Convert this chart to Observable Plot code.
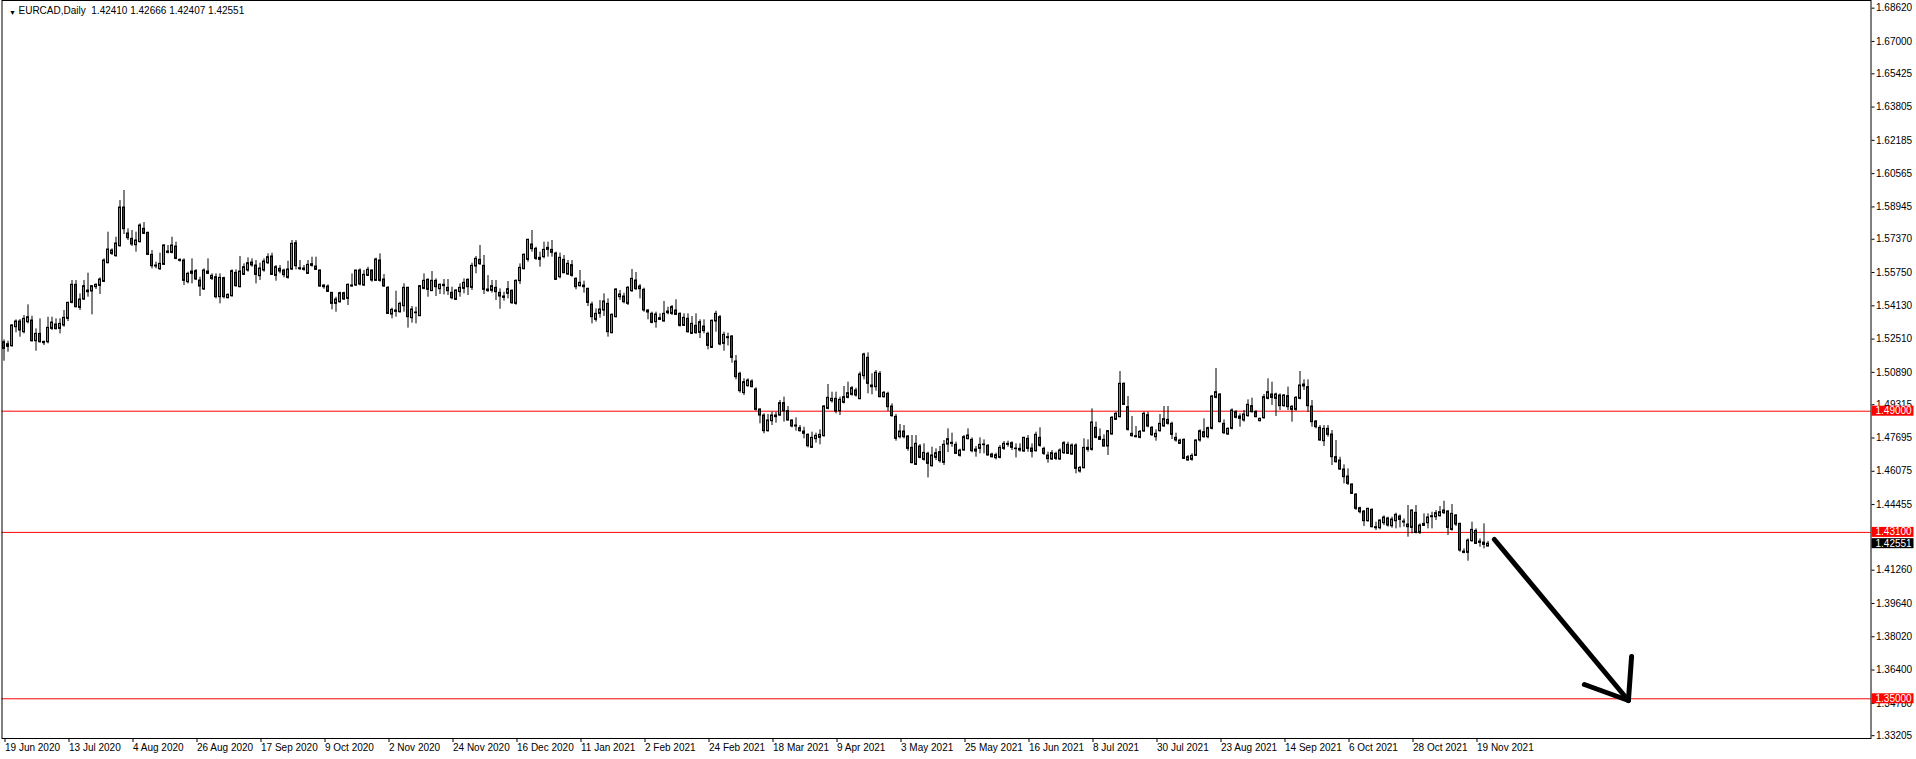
<!DOCTYPE html>
<html><head><meta charset="utf-8">
<script src="https://cdn.jsdelivr.net/npm/d3@7"></script>
<script src="https://cdn.jsdelivr.net/npm/@observablehq/plot@0.6"></script>
<style>
html,body{margin:0;padding:0;background:#fff;overflow:hidden}
#chart{width:1916px;height:759px}
</style></head><body><div id="chart"></div>
<script>
const symbolTitle = "EURCAD,Daily";
const lastQuote = ["1.42410","1.42666","1.42407","1.42551"];
const dateLabels = ["19 Jun 2020","13 Jul 2020","4 Aug 2020","26 Aug 2020","17 Sep 2020","9 Oct 2020","2 Nov 2020","24 Nov 2020","16 Dec 2020","11 Jan 2021","2 Feb 2021","24 Feb 2021","18 Mar 2021","9 Apr 2021","3 May 2021","25 May 2021","16 Jun 2021","8 Jul 2021","30 Jul 2021","23 Aug 2021","14 Sep 2021","6 Oct 2021","28 Oct 2021","19 Nov 2021"];
const barsPerDateLabel = 16;
const priceTicks = [1.68620,1.67000,1.65425,1.63805,1.62185,1.60565,1.58945,1.57370,1.55750,1.54130,1.52510,1.50890,1.49315,1.47695,1.46075,1.44455,1.41260,1.39640,1.38020,1.36400,1.34780,1.33205];
const levels = [1.49000, 1.43100, 1.35000];
const lastPrice = 1.42551;

const opens = [
1.52359,1.52131,1.52164,1.53089,1.53365,1.52846,1.53332,1.53414,1.52407,1.52764,
1.52375,1.52359,1.53008,1.53219,1.53008,1.53170,1.53495,1.54274,1.55150,1.54030,
1.54436,1.54793,1.54826,1.55037,1.55102,1.55296,1.56205,1.56660,1.56546,1.57033,
1.58915,1.57650,1.57390,1.57082,1.57228,1.57877,1.57682,1.56611,1.56092,1.55913,
1.56124,1.56708,1.56708,1.57017,1.56367,1.56335,1.55280,1.55686,1.55816,1.55361,
1.54923,1.55799,1.55442,1.55523,1.54550,1.55475,1.54501,1.54598,1.55734,1.55037,
1.55637,1.55848,1.56238,1.56092,1.55572,1.55848,1.56205,1.56530,1.55588,1.55929,
1.55848,1.55491,1.55897,1.57179,1.55962,1.55880,1.55686,1.56075,1.56043,1.55848,
1.55118,1.55069,1.54761,1.54225,1.54306,1.54744,1.54469,1.55069,1.55118,1.55848,
1.55118,1.55588,1.55848,1.55345,1.56335,1.55410,1.55004,1.53706,1.53836,1.53819,
1.54112,1.55005,1.53528,1.53771,1.53625,1.54956,1.55394,1.54843,1.55346,1.54940,
1.55086,1.55005,1.54762,1.54421,1.54794,1.54956,1.55394,1.55005,1.56044,1.56368,
1.56076,1.54924,1.54859,1.55005,1.54762,1.54583,1.54713,1.54859,1.54226,1.55330,
1.55914,1.56368,1.57115,1.56904,1.56466,1.56498,1.56855,1.56855,1.56677,1.55524,
1.56368,1.55654,1.56109,1.55443,1.55086,1.55118,1.54956,1.54193,1.53447,1.53739,
1.53901,1.54226,1.52798,1.53577,1.54550,1.54583,1.54226,1.54843,1.55362,1.55070,
1.54908,1.53901,1.53739,1.53333,1.53447,1.53366,1.53771,1.53739,1.53901,1.53739,
1.53155,1.53496,1.52765,1.53155,1.52814,1.53122,1.52765,1.52083,1.53366,1.53577,
1.52278,1.52554,1.52635,1.51420,1.50819,1.49878,1.50219,1.50446,1.50056,1.49082,
1.48790,1.48027,1.48514,1.48709,1.48790,1.49391,1.49001,1.48547,1.48303,1.48174,
1.48011,1.47849,1.47216,1.47638,1.47703,1.47784,1.49115,1.49488,1.49602,1.49001,
1.49407,1.49650,1.49797,1.50008,1.49586,1.50705,1.51598,1.50170,1.50170,1.50819,
1.49683,1.49845,1.49228,1.48725,1.47735,1.48011,1.47768,1.47216,1.46388,1.47281,
1.46632,1.46924,1.46323,1.46729,1.47005,1.46486,1.47378,1.47411,1.47362,1.46826,
1.47086,1.47638,1.47605,1.47135,1.47167,1.47346,1.47313,1.46891,1.46713,1.46729,
1.47167,1.47411,1.47443,1.47183,1.47167,1.47037,1.47654,1.47183,1.47054,1.47703,
1.47167,1.46843,1.46648,1.46924,1.46648,1.46956,1.47362,1.46891,1.47329,1.46064,
1.46226,1.47119,1.47119,1.48190,1.47735,1.47605,1.47281,1.47865,1.48579,1.48709,
1.50332,1.49196,1.47898,1.47735,1.47703,1.48011,1.48806,1.48190,1.47735,1.48027,
1.48255,1.48579,1.48385,1.47703,1.47411,1.47605,1.46599,1.46632,1.46826,1.47573,
1.47979,1.47735,1.48141,1.49650,1.49813,1.48385,1.47865,1.48141,1.48953,1.48742,
1.48547,1.48758,1.49245,1.48953,1.48514,1.48660,1.49602,1.49813,1.49602,1.49764,
1.49245,1.49732,1.49066,1.49066,1.49602,1.50299,1.50170,1.49228,1.48498,1.48190,
1.47540,1.48141,1.47865,1.46761,1.46599,1.46161,1.45820,1.45430,1.44943,1.44278,
1.44116,1.43645,1.44197,1.43353,1.43304,1.43548,1.43775,1.43402,1.43645,1.43872,
1.43629,1.43483,1.43320,1.44051,1.43077,1.43418,1.43548,1.43840,1.43840,1.43889,
1.44165,1.44116,1.43223,1.43921,1.43515,1.42168,1.42103,1.42671,1.43174,1.42655,
1.42606,1.42410];

const highs = [
1.52472,1.52407,1.53219,1.53446,1.53462,1.53657,1.54176,1.53624,1.53008,1.53495,
1.52407,1.53576,1.53576,1.53495,1.53495,1.53900,1.54306,1.55361,1.55361,1.54712,
1.55361,1.55718,1.55102,1.55199,1.55491,1.56416,1.57714,1.56903,1.57471,1.59256,
1.59743,1.57877,1.57796,1.57714,1.58120,1.58185,1.57714,1.56822,1.56254,1.56692,
1.57114,1.57065,1.57471,1.57228,1.56416,1.56416,1.55767,1.56416,1.55897,1.55523,
1.55929,1.56416,1.55686,1.55686,1.55686,1.55523,1.54712,1.55880,1.55880,1.56530,
1.56173,1.56465,1.56416,1.56335,1.56205,1.56416,1.56660,1.56692,1.56092,1.56092,
1.55913,1.56302,1.57309,1.57309,1.56335,1.56092,1.56335,1.56497,1.56497,1.55880,
1.55150,1.55150,1.54777,1.54550,1.54793,1.54793,1.55199,1.55686,1.55848,1.55929,
1.55848,1.56010,1.55880,1.56449,1.56660,1.55653,1.55069,1.54014,1.54842,1.54306,
1.55200,1.55037,1.54096,1.54064,1.55118,1.55687,1.55443,1.55800,1.55443,1.55200,
1.55411,1.55411,1.55037,1.54908,1.55200,1.55443,1.55443,1.56206,1.56530,1.57066,
1.56579,1.55605,1.55362,1.55362,1.54956,1.54794,1.55313,1.54908,1.55394,1.56173,
1.56660,1.57374,1.57796,1.56985,1.56741,1.57228,1.57228,1.57310,1.56741,1.56693,
1.56579,1.56336,1.56336,1.55492,1.55849,1.55330,1.54989,1.54307,1.53982,1.54388,
1.54713,1.54469,1.53739,1.54956,1.54875,1.54745,1.55070,1.55898,1.55751,1.55167,
1.54989,1.53950,1.53820,1.53820,1.53739,1.54340,1.54064,1.54145,1.54421,1.53788,
1.53739,1.53739,1.53609,1.53739,1.53447,1.53447,1.52846,1.53447,1.53869,1.53658,
1.52846,1.52798,1.52684,1.51712,1.50900,1.50576,1.50576,1.50527,1.50137,1.49115,
1.48871,1.48839,1.48953,1.48953,1.49521,1.49683,1.49228,1.48579,1.48677,1.48303,
1.48222,1.47898,1.47979,1.47930,1.48092,1.49277,1.50300,1.49926,1.49926,1.49683,
1.50202,1.50413,1.50202,1.50121,1.50900,1.51825,1.51841,1.50819,1.50981,1.50933,
1.49959,1.49926,1.49358,1.48839,1.48352,1.48305,1.47817,1.47817,1.47817,1.47378,
1.47411,1.47005,1.47248,1.47167,1.47281,1.47573,1.48141,1.47930,1.47492,1.47151,
1.47817,1.48141,1.47703,1.47281,1.47703,1.47605,1.47378,1.46956,1.46956,1.47329,
1.47524,1.47541,1.47508,1.47411,1.47411,1.47735,1.47817,1.47411,1.47979,1.48190,
1.47248,1.47005,1.47086,1.47005,1.47167,1.47524,1.47492,1.47411,1.47411,1.46307,
1.47654,1.47605,1.49115,1.48466,1.48141,1.47849,1.48060,1.48742,1.48953,1.50933,
1.50381,1.49715,1.48742,1.48255,1.48060,1.48953,1.48953,1.48255,1.48092,1.48839,
1.49228,1.49228,1.48466,1.47930,1.47638,1.47654,1.46843,1.46924,1.47605,1.48092,
1.48628,1.48222,1.49764,1.51079,1.49845,1.48579,1.48190,1.49115,1.49034,1.48871,
1.49034,1.49553,1.49634,1.49034,1.48660,1.49813,1.50576,1.50413,1.49878,1.49845,
1.49813,1.50170,1.49277,1.49715,1.50933,1.50527,1.50527,1.49520,1.48547,1.48303,
1.48303,1.48303,1.48060,1.47573,1.46761,1.46388,1.46193,1.45463,1.44976,1.44327,
1.44165,1.44278,1.44246,1.43597,1.43710,1.43905,1.43840,1.43840,1.44035,1.43953,
1.43759,1.44408,1.44197,1.44408,1.43515,1.44002,1.44002,1.44083,1.44165,1.44359,
1.44619,1.44165,1.44457,1.43970,1.43548,1.42298,1.42785,1.43597,1.43272,1.42785,
1.43515,1.42666];

const lows = [
1.51434,1.51872,1.52115,1.52813,1.52602,1.52765,1.53251,1.52359,1.51921,1.52310,
1.52196,1.52277,1.52927,1.52959,1.52764,1.53089,1.53365,1.54225,1.54030,1.53900,
1.54387,1.54550,1.53689,1.54923,1.54680,1.55264,1.56173,1.56579,1.56497,1.56984,
1.57601,1.57309,1.57017,1.56741,1.57195,1.57601,1.56579,1.55929,1.55929,1.55848,
1.56092,1.56660,1.56660,1.56367,1.56254,1.55118,1.55199,1.55199,1.55361,1.54582,
1.54874,1.55653,1.55361,1.54469,1.54225,1.54469,1.54469,1.54550,1.55037,1.55004,
1.55605,1.55767,1.56010,1.55199,1.55361,1.55767,1.56140,1.55605,1.55329,1.55686,
1.55491,1.55426,1.55848,1.55880,1.55848,1.55815,1.55653,1.56010,1.55848,1.55037,
1.54939,1.54777,1.53933,1.53819,1.54258,1.54387,1.54144,1.55037,1.55069,1.55102,
1.55069,1.55556,1.55280,1.55313,1.55280,1.55037,1.53706,1.53495,1.53576,1.53771,
1.53820,1.53041,1.53285,1.53252,1.53609,1.54908,1.54550,1.54826,1.54583,1.54680,
1.54664,1.54632,1.54421,1.54388,1.54550,1.54713,1.54632,1.54875,1.55687,1.56092,
1.54680,1.54794,1.54745,1.54388,1.53966,1.54356,1.54469,1.54193,1.54161,1.55167,
1.55881,1.56255,1.56741,1.56336,1.56011,1.56417,1.56498,1.56498,1.55362,1.55443,
1.55687,1.55605,1.55524,1.54908,1.55037,1.54745,1.54096,1.53252,1.53333,1.53528,
1.53609,1.52603,1.52765,1.53544,1.54388,1.54226,1.54145,1.54778,1.54875,1.54469,
1.53820,1.53447,1.53252,1.53041,1.53414,1.53333,1.53690,1.53658,1.53658,1.53090,
1.53122,1.52798,1.52733,1.52749,1.52538,1.52765,1.51986,1.52051,1.52846,1.52181,
1.51921,1.52181,1.51337,1.50527,1.49878,1.49764,1.50170,1.50137,1.49001,1.48385,
1.47898,1.47979,1.48303,1.48417,1.48742,1.48466,1.48514,1.48190,1.48027,1.47979,
1.47654,1.47216,1.47200,1.47443,1.47362,1.47735,1.49066,1.49391,1.48871,1.48790,
1.49358,1.49602,1.49732,1.49683,1.49553,1.50527,1.49845,1.49797,1.49975,1.49650,
1.49634,1.48985,1.48709,1.47540,1.47654,1.47654,1.47054,1.46437,1.46356,1.46680,
1.46567,1.45755,1.46275,1.46599,1.46470,1.46356,1.46985,1.47248,1.46891,1.46762,
1.47054,1.47605,1.46973,1.46762,1.46924,1.46924,1.46826,1.46713,1.46632,1.46680,
1.47086,1.47248,1.47086,1.46729,1.47005,1.47005,1.47005,1.46729,1.47005,1.47248,
1.46843,1.46470,1.46599,1.46599,1.46599,1.46891,1.46891,1.46843,1.45950,1.45983,
1.46194,1.47005,1.47054,1.47654,1.47573,1.47248,1.46843,1.47833,1.48547,1.48677,
1.49277,1.48027,1.47735,1.47703,1.47654,1.47979,1.48190,1.47768,1.47540,1.47979,
1.48222,1.48320,1.47622,1.47492,1.47378,1.46648,1.46567,1.46567,1.46794,1.47492,
1.47687,1.47654,1.48092,1.49602,1.48433,1.47865,1.47817,1.48092,1.48628,1.48222,
1.48466,1.48709,1.48904,1.48677,1.48482,1.48612,1.49553,1.49277,1.48742,1.49034,
1.49196,1.49034,1.48466,1.49001,1.49553,1.50007,1.48952,1.48222,1.48141,1.47540,
1.47281,1.47735,1.46355,1.46469,1.46112,1.45463,1.45382,1.44943,1.44165,1.44002,
1.43385,1.43597,1.43320,1.43191,1.43223,1.43434,1.43353,1.43304,1.43272,1.43320,
1.43353,1.42866,1.43028,1.43028,1.42996,1.43385,1.43272,1.43272,1.43678,1.43840,
1.43970,1.42947,1.43158,1.43385,1.42136,1.42055,1.41698,1.42623,1.42509,1.42379,
1.42298,1.42407];

const closes = [
1.52034,1.52261,1.53170,1.53365,1.52927,1.53495,1.53576,1.52407,1.52764,1.52359,
1.52310,1.53057,1.53316,1.52992,1.53251,1.53544,1.54274,1.55150,1.54063,1.54436,
1.55085,1.54874,1.55085,1.55150,1.55410,1.56335,1.56870,1.56822,1.57163,1.58915,
1.57861,1.57422,1.57114,1.57309,1.58039,1.57633,1.56611,1.56059,1.56043,1.56173,
1.57065,1.56773,1.57065,1.56416,1.56319,1.55345,1.55686,1.55799,1.55410,1.55069,
1.55848,1.55686,1.55588,1.54550,1.55491,1.54550,1.54663,1.55816,1.55085,1.55799,
1.56010,1.56205,1.56092,1.55637,1.55945,1.56286,1.56497,1.55637,1.56010,1.55799,
1.55621,1.55897,1.57147,1.56059,1.55913,1.55945,1.56124,1.56157,1.55880,1.55069,
1.55037,1.54809,1.54225,1.54436,1.54744,1.54436,1.55150,1.55118,1.55848,1.55166,
1.55637,1.55880,1.55361,1.56384,1.55345,1.55069,1.53738,1.53933,1.53900,1.54225,
1.55005,1.53577,1.53950,1.53804,1.55086,1.55346,1.54908,1.55346,1.55037,1.55151,
1.55151,1.54843,1.54502,1.54875,1.55005,1.55248,1.55037,1.56076,1.56417,1.56157,
1.54908,1.54843,1.55086,1.54794,1.54583,1.54518,1.54940,1.54258,1.55346,1.55979,
1.56612,1.57342,1.56888,1.56417,1.56368,1.56855,1.56953,1.56709,1.55394,1.56466,
1.55719,1.56173,1.55589,1.55037,1.55248,1.55037,1.54274,1.53577,1.53739,1.53950,
1.54340,1.52846,1.53690,1.54924,1.54680,1.54307,1.55005,1.55443,1.54940,1.54940,
1.53901,1.53804,1.53301,1.53706,1.53528,1.53739,1.53853,1.54064,1.53690,1.53155,
1.53544,1.52846,1.53252,1.52798,1.53333,1.52895,1.52181,1.53398,1.53739,1.52246,
1.52716,1.52603,1.51597,1.50657,1.49975,1.50413,1.50494,1.50170,1.49066,1.48790,
1.48027,1.48547,1.48790,1.48790,1.49391,1.49001,1.48547,1.48255,1.48255,1.48027,
1.47898,1.47297,1.47703,1.47800,1.47849,1.49228,1.49650,1.49602,1.48985,1.49553,
1.49683,1.49878,1.50121,1.49764,1.50787,1.51760,1.50332,1.50251,1.50868,1.49683,
1.49894,1.49196,1.48758,1.47654,1.48011,1.47735,1.47167,1.46470,1.47411,1.46729,
1.46972,1.46437,1.46843,1.46956,1.46567,1.47362,1.47638,1.47460,1.46924,1.47086,
1.47735,1.47817,1.47054,1.47037,1.47362,1.47378,1.46843,1.46762,1.46859,1.47216,
1.47411,1.47362,1.47216,1.47151,1.47086,1.47703,1.47167,1.47021,1.47849,1.47313,
1.46924,1.46664,1.46956,1.46680,1.47086,1.47443,1.46924,1.47329,1.46194,1.46242,
1.47216,1.47216,1.48449,1.47703,1.47605,1.47281,1.48027,1.48677,1.48871,1.50332,
1.49310,1.48092,1.47784,1.47784,1.47995,1.48871,1.48255,1.47833,1.47898,1.48385,
1.48612,1.48385,1.47849,1.47573,1.47573,1.46680,1.46761,1.46826,1.47573,1.48027,
1.47735,1.48174,1.49715,1.49926,1.48466,1.47930,1.48141,1.49034,1.48677,1.48628,
1.48839,1.49310,1.48953,1.48709,1.48628,1.49683,1.49926,1.49650,1.49813,1.49245,
1.49764,1.49196,1.49212,1.49650,1.50251,1.50202,1.49244,1.48465,1.48222,1.47573,
1.48141,1.47849,1.46761,1.46518,1.46161,1.45787,1.45463,1.44976,1.44246,1.44083,
1.43645,1.44246,1.43353,1.43304,1.43678,1.43824,1.43434,1.43726,1.43953,1.43710,
1.43580,1.43353,1.44165,1.43077,1.43434,1.43515,1.43824,1.43889,1.44035,1.44084,
1.44035,1.43320,1.44002,1.43483,1.42217,1.42103,1.42704,1.43223,1.42541,1.42590,
1.42493,1.42551];

// hand-drawn arrow, in (bar index, price)
const arrowStrokes = [
  {part: "shaft", bar: 372.6, price: 1.42754}, {part: "shaft", bar: 406.1, price: 1.34917},
  {part: "head1", bar: 395.1, price: 1.35696}, {part: "head1", bar: 406.1, price: 1.34917},
  {part: "head2", bar: 406.9, price: 1.37060}, {part: "head2", bar: 406.1, price: 1.34917}
];

const bars = opens.map((o, i) => ({i, o, h: highs[i], l: lows[i], c: closes[i], up: closes[i] >= o}));
const dateTicks = dateLabels.map((_, k) => k * barsPerDateLabel);

const W = 1916, H = 759;
const BULL = "#3cb43c", BEAR = "#e00000";
const FONT = "'Liberation Sans', Arial, sans-serif";

const chart = Plot.plot({
  width: W, height: H,
  marginTop: 0, marginLeft: 1.5, marginRight: 45.5, marginBottom: 21,
  style: {fontFamily: FONT, fontSize: "10px", background: "#fff", color: "#000", overflow: "visible"},
  x: {type: "linear", domain: [-0.5, 466.75], label: null},
  y: {type: "linear", domain: [1.33067, 1.68993], label: null},
  marks: [
    Plot.ruleY(levels, {y: d => d, stroke: "#ff0000", strokeWidth: 1}),
    Plot.ruleX(bars, {x: "i", y1: "l", y2: "h", stroke: "#000", strokeWidth: 1}),
    Plot.rect(bars, {
      x1: d => d.i - 0.25, x2: d => d.i + 0.25,
      y1: d => Math.min(d.o, d.c), y2: d => Math.max(d.o, d.c),
      fill: d => d.up ? BULL : BEAR, stroke: "#000", strokeWidth: 1
    }),
    Plot.axisY({anchor: "right", ticks: priceTicks, tickFormat: d => d.toFixed(5),
      tickSize: 3, tickPadding: 2, fontSize: 10, label: null, stroke: "#000"}),
    Plot.axisX({anchor: "bottom", ticks: dateTicks, tickFormat: d => dateLabels[Math.round(d / barsPerDateLabel)],
      tickSize: 4, tickPadding: 1, textAnchor: "start", dx: 1, fontSize: 10, label: null, stroke: "#000"}),
    Plot.frame({stroke: "#000", strokeWidth: 1}),
    Plot.line(arrowStrokes, {x: "bar", y: "price", z: "part", stroke: "#000", strokeWidth: 5,
      strokeLinecap: "round", strokeLinejoin: "round"}),
    Plot.text(["\u25BC"], {frameAnchor: "top-left", dx: 7, dy: 10, fontSize: 7, fill: "#000"}),
    Plot.text([symbolTitle + "\u00a0\u00a0" + lastQuote.join(" ")], {frameAnchor: "top-left", dx: 16.5, dy: 10,
      textAnchor: "start", lineAnchor: "middle", fontSize: 10, fill: "#000"})
  ]
});

document.getElementById("chart").appendChild(chart);

// price tags on the right axis, placed with the plot's own y scale
const yScale = chart.scale("y");
const xRight = chart.scale("x").range[1];
const svg = d3.select(chart);
const tags = levels.map(v => ({v, fill: "#ff0000"})).concat([{v: lastPrice, fill: "#000000"}]);
const tagLayer = svg.append("g").attr("text-anchor", "start");
for (const t of tags) {
  const yy = yScale.apply(t.v);
  tagLayer.append("rect").attr("x", xRight + 1).attr("y", yy - 5).attr("width", 42).attr("height", 10).attr("fill", t.fill);
  tagLayer.append("text").attr("x", xRight + 5).attr("y", yy).attr("dy", "0.35em").attr("text-anchor", "start")
    .attr("fill", "#fff").attr("font-family", FONT).attr("font-size", 10).text(t.v.toFixed(5));
}
</script>
</body></html>
